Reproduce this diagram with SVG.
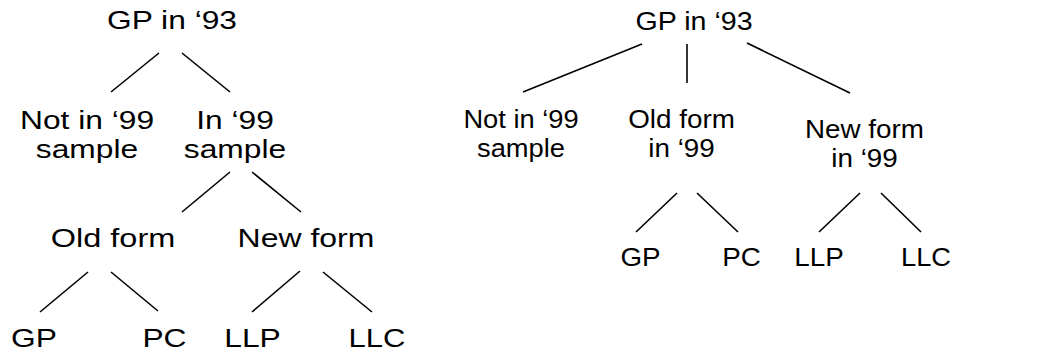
<svg xmlns="http://www.w3.org/2000/svg" width="1046" height="356" viewBox="0 0 1046 356">
  <style>
    .lbl { font-family: "Liberation Sans", Arial, sans-serif; fill: #000; text-anchor: middle; }
    .l { font-size: 25px; }
    .r { font-size: 26px; }
    .edge { stroke: #000; stroke-width: 1.6; fill: none; stroke-linecap: butt; }
  </style>
  <rect width="1046" height="356" fill="#fff"/>

  <!-- Connectors -->
  <g id="connectors" class="edge">
    <!-- left tree -->
    <line x1="159" y1="53" x2="111" y2="92"/>
    <line x1="182" y1="53" x2="230" y2="92"/>
    <line x1="230" y1="172" x2="182" y2="212"/>
    <line x1="252" y1="172" x2="301" y2="212"/>
    <line x1="88" y1="272" x2="40" y2="312"/>
    <line x1="111" y1="272" x2="158" y2="311"/>
    <line x1="300" y1="271" x2="252" y2="312"/>
    <line x1="323" y1="272" x2="372" y2="312"/>
    <!-- right tree -->
    <line x1="642" y1="44" x2="523" y2="92"/>
    <line x1="687" y1="44" x2="687" y2="83"/>
    <line x1="747" y1="43" x2="850" y2="93"/>
    <line x1="677" y1="193" x2="636" y2="232"/>
    <line x1="697" y1="193" x2="738" y2="232"/>
    <line x1="860" y1="193" x2="819" y2="232"/>
    <line x1="881" y1="193" x2="921" y2="232"/>
  </g>

  <!-- Left tree nodes -->
  <g id="L-root" transform="translate(172,0) scale(1.27,1)">
    <text class="lbl l" x="0" y="29">GP in ‘93</text>
  </g>
  <g id="L-notin99" transform="translate(87,0) scale(1.27,1)">
    <text class="lbl l" x="0" y="129">Not in ‘99</text>
    <text class="lbl l" x="0" y="158">sample</text>
  </g>
  <g id="L-in99" transform="translate(235,0) scale(1.27,1)">
    <text class="lbl l" x="0" y="129">In ‘99</text>
    <text class="lbl l" x="0" y="158">sample</text>
  </g>
  <g id="L-oldform" transform="translate(113,0) scale(1.3,1)">
    <text class="lbl l" x="0" y="247">Old form</text>
  </g>
  <g id="L-newform" transform="translate(306,0) scale(1.28,1)">
    <text class="lbl l" x="0" y="247">New form</text>
  </g>
  <g id="L-gp" transform="translate(34,0) scale(1.27,1)">
    <text class="lbl l" x="0" y="347">GP</text>
  </g>
  <g id="L-pc" transform="translate(164.5,0) scale(1.27,1)">
    <text class="lbl l" x="0" y="347">PC</text>
  </g>
  <g id="L-llp" transform="translate(252.5,0) scale(1.27,1)">
    <text class="lbl l" x="0" y="347">LLP</text>
  </g>
  <g id="L-llc" transform="translate(377,0) scale(1.24,1)">
    <text class="lbl l" x="0" y="347">LLC</text>
  </g>

  <!-- Right tree nodes -->
  <g id="R-root" transform="translate(694,0) scale(1.1,1)">
    <text class="lbl r" x="0" y="30">GP in ‘93</text>
  </g>
  <g id="R-notin99" transform="translate(521,0) scale(1.05,1)">
    <text class="lbl r" x="0" y="128">Not in ‘99</text>
    <text class="lbl r" x="0" y="157">sample</text>
  </g>
  <g id="R-oldform" transform="translate(681.5,0) scale(1.07,1)">
    <text class="lbl r" x="0" y="128">Old form</text>
    <text class="lbl r" x="0" y="157">in ‘99</text>
  </g>
  <g id="R-newform" transform="translate(864.5,0) scale(1.07,1)">
    <text class="lbl r" x="0" y="138">New form</text>
    <text class="lbl r" x="0" y="167">in ‘99</text>
  </g>
  <g id="R-gp" transform="translate(640.5,0) scale(1.07,1)">
    <text class="lbl r" x="0" y="266">GP</text>
  </g>
  <g id="R-pc" transform="translate(741.5,0) scale(1.07,1)">
    <text class="lbl r" x="0" y="266">PC</text>
  </g>
  <g id="R-llp" transform="translate(819,0) scale(1.07,1)">
    <text class="lbl r" x="0" y="266">LLP</text>
  </g>
  <g id="R-llc" transform="translate(926,0) scale(1.05,1)">
    <text class="lbl r" x="0" y="266">LLC</text>
  </g>
</svg>
